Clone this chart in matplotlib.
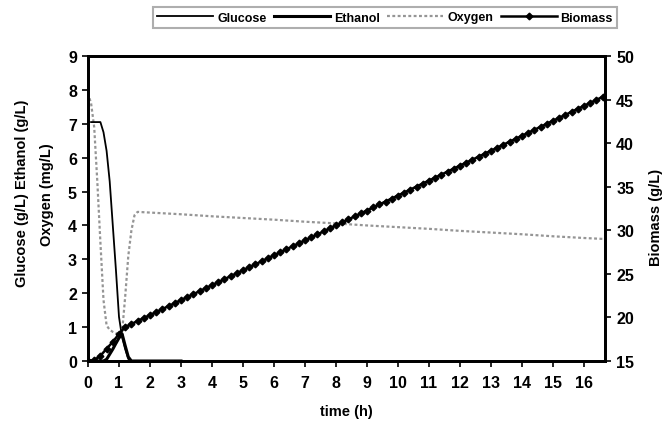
import numpy as np
import matplotlib
matplotlib.use("Agg")
import matplotlib.pyplot as plt
from matplotlib.lines import Line2D

plt.rcParams['font.family'] = ['Liberation Sans', 'DejaVu Sans']

# Glucose / ethanol (g/L)
ge_time = [0.1, 0.2, 0.3, 0.4, 0.5, 0.6, 0.7, 0.8, 0.9, 1.0, 1.1, 1.2, 1.3, 1.4, 2.0, 3.0]
glucose = [7.05, 7.05, 7.05, 7.05, 6.75, 6.2, 5.3, 4.0, 2.7, 1.3, 0.7, 0.35, 0.06, 0.0, 0.0, 0.0]
ethanol = [0.0, 0.0, 0.0, 0.0, 0.0, 0.05, 0.2, 0.35, 0.52, 0.68, 0.8, 0.45, 0.12, 0.0, 0.0, 0.0]

# Dissolved oxygen (mg/L)
oxy_time = [0.05, 0.1, 0.2, 0.3, 0.4, 0.5, 0.6, 0.7, 0.8, 0.9, 1.0, 1.1, 1.2, 1.3, 1.4, 1.5, 1.6,
            2, 3, 4, 5, 6, 7, 8, 9, 10, 11, 12, 13, 14, 15, 16, 16.67]
oxygen = [7.75, 7.6, 6.9, 5.3, 3.5, 1.8, 1.05, 0.92, 0.86, 0.82, 0.8, 0.85, 1.9, 3.1, 3.85, 4.3, 4.4,
          4.38, 4.33, 4.27, 4.22, 4.17, 4.11, 4.06, 4.0, 3.95, 3.9, 3.84, 3.79, 3.74, 3.68, 3.63, 3.6]

# Biomass (g/L), sampled every 0.2 h
bio_time = np.round(np.arange(0, 16.61, 0.2), 1)
biomass = [15.0, 15.1, 15.6, 16.4, 17.2, 18.1,
           18.90, 19.24, 19.59, 19.93, 20.27, 20.61, 20.96, 21.30, 21.64, 21.99,
           22.33, 22.67, 23.01, 23.36, 23.70, 24.04, 24.39, 24.73, 25.07, 25.41,
           25.76, 26.10, 26.44, 26.79, 27.13, 27.47, 27.82, 28.16, 28.50, 28.84,
           29.19, 29.53, 29.87, 30.22, 30.56, 30.90, 31.24, 31.59, 31.93, 32.27,
           32.62, 32.96, 33.30, 33.64, 33.99, 34.33, 34.67, 35.02, 35.36, 35.70,
           36.04, 36.39, 36.73, 37.07, 37.42, 37.76, 38.10, 38.44, 38.79, 39.13,
           39.47, 39.82, 40.16, 40.50, 40.84, 41.19, 41.53, 41.87, 42.22, 42.56,
           42.90, 43.24, 43.59, 43.93, 44.27, 44.62, 44.96, 45.30]

x_ticks = list(range(0, 17))
left_ticks = list(range(0, 10))
right_ticks = list(range(15, 51, 5))

OXY_COLOR = '#959595'
OXY_STYLE = (0, (1.3, 1.1))

W, H = 665, 435
fig = plt.figure(figsize=(W / 100, H / 100), dpi=100)
ax = fig.add_axes([88 / W, 1 - 362 / H, (605 - 88) / W, (362 - 57) / H])
ax2 = ax.twinx()

ax.plot(ge_time, glucose, color='black', lw=1.3, zorder=3)
ax.plot(ge_time, ethanol, color='black', lw=2.2, zorder=3)
ax.plot(oxy_time, oxygen, color=OXY_COLOR, lw=1.6, linestyle=OXY_STYLE, zorder=2)
ax2.plot(bio_time, biomass, color='black', lw=1.8, marker='D', markersize=3.4,
         markerfacecolor='black', markeredgecolor='black', zorder=4)

ax.set_xlim(0, 16.68)
ax.set_ylim(0, 9)
ax2.set_ylim(15, 50)
ax.set_xticks(x_ticks)
ax.set_yticks(left_ticks)
ax2.set_yticks(right_ticks)

tick_font = dict(fontsize=11.5, fontweight='bold')
ax.set_xticklabels([str(v) for v in x_ticks], **tick_font)
ax.set_yticklabels([str(v) for v in left_ticks], **tick_font)
ax2.set_yticklabels([str(v) for v in right_ticks], **tick_font)

for a in (ax, ax2):
    for s in a.spines.values():
        s.set_linewidth(2.0)
        s.set_color('black')
    a.tick_params(direction='out', length=4, width=1.2, pad=4, colors='black')
ax.tick_params(axis='x', pad=6)

ax.set_xlabel('time (h)', fontsize=10.5, fontweight='bold', labelpad=10)
fig.text(22 / W, 1 - 193 / H, 'Glucose (g/L) Ethanol (g/L)', rotation=90,
         ha='center', va='center', fontsize=10.5, fontweight='bold')
fig.text(47 / W, 1 - 195 / H, 'Oxygen (mg/L)', rotation=90,
         ha='center', va='center', fontsize=10.5, fontweight='bold')
fig.text(656 / W, 1 - 217 / H, 'Biomass (g/L)', rotation=90,
         ha='center', va='center', fontsize=10.5, fontweight='bold')

handles = [
    Line2D([], [], color='black', lw=1.3),
    Line2D([], [], color='black', lw=2.2),
    Line2D([], [], color=OXY_COLOR, lw=1.6, linestyle=OXY_STYLE),
    Line2D([], [], color='black', lw=1.8, marker='D', markersize=3.4),
]
leg = fig.legend(handles, ['Glucose', 'Ethanol', 'Oxygen', 'Biomass'],
                 loc='center', bbox_to_anchor=(385 / W, 1 - 18.5 / H), ncol=4,
                 frameon=True, fancybox=False, handlelength=4.5,
                 handletextpad=0.3, columnspacing=0.6, borderpad=0.35,
                 prop={'weight': 'bold', 'size': 9})
leg.get_frame().set_edgecolor('#9a9a9a')
leg.get_frame().set_linewidth(1.5)

fig.savefig('out.png', dpi=100)
